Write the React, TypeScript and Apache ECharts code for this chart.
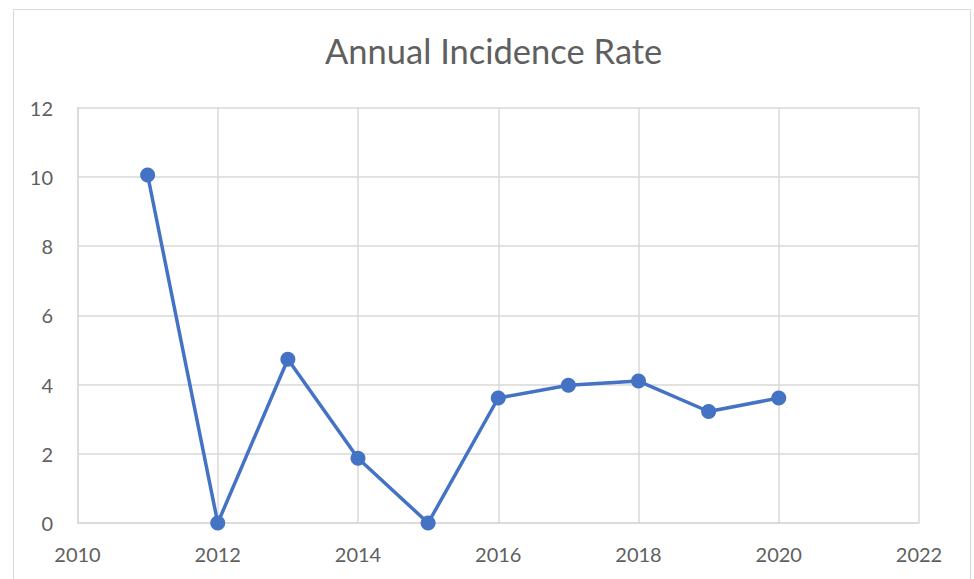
import React, { useEffect, useRef } from "react";
import * as echarts from "echarts";

const years = [2011, 2012, 2013, 2014, 2015, 2016, 2017, 2018, 2019, 2020];
const rates = [10.05, 0, 4.73, 1.87, 0, 3.61, 3.98, 4.1, 3.22, 3.61];
const titleText = "Annual Incidence Rate";

export default function App() {
  const ref = useRef<HTMLDivElement>(null);
  useEffect(() => {
    if (!ref.current) return;
    const chart = echarts.init(ref.current, undefined, { renderer: "svg" });
    const font = "Lato, 'Open Sans', sans-serif";
    chart.setOption({
      animation: false,
      backgroundColor: "#ffffff",
      title: {
        text: titleText,
        left: 325,
        top: 33,
        padding: 0,
        textStyle: { fontFamily: font, fontSize: 34.5, fontWeight: "normal", color: "#5f5f5f" },
      },
      graphic: [
        {
          type: "rect",
          shape: { x: 13.5, y: 9.5, width: 957, height: 620 },
          style: { fill: "none", stroke: "#d9d9d9", lineWidth: 1 },
          silent: true,
        },
      ],
      grid: { left: 77.5, top: 107.5, right: 55, bottom: 56, containLabel: false },
      xAxis: {
        type: "value",
        min: 2010,
        max: 2022,
        interval: 2,
        axisLine: { show: true, lineStyle: { color: "#d9d9d9", width: 1.5 } },
        axisTick: { show: false },
        splitLine: { show: true, lineStyle: { color: "#d9d9d9", width: 1.5 } },
        axisLabel: {
          fontFamily: font,
          fontSize: 20,
          color: "#5f5f5f",
          margin: 21,
          formatter: (v: number) => String(v),
        },
      },
      yAxis: {
        type: "value",
        min: 0,
        max: 12,
        interval: 2,
        axisLine: { show: true, lineStyle: { color: "#d9d9d9", width: 1.5 } },
        axisTick: { show: false },
        splitLine: { show: true, lineStyle: { color: "#d9d9d9", width: 1.5 } },
        axisLabel: { fontFamily: font, fontSize: 20, color: "#5f5f5f", margin: 24.5 },
      },
      series: [
        {
          type: "line",
          data: years.map((y, i) => [y, rates[i]]),
          symbol: "circle",
          symbolSize: 15,
          lineStyle: { color: "#4472C4", width: 3.5 },
          itemStyle: { color: "#4472C4" },
        },
      ],
    });
    return () => chart.dispose();
  }, []);
  return (
    <div
      ref={ref}
      style={{ position: "fixed", left: 0, top: 0, width: 974, height: 579 }}
    />
  );
}
